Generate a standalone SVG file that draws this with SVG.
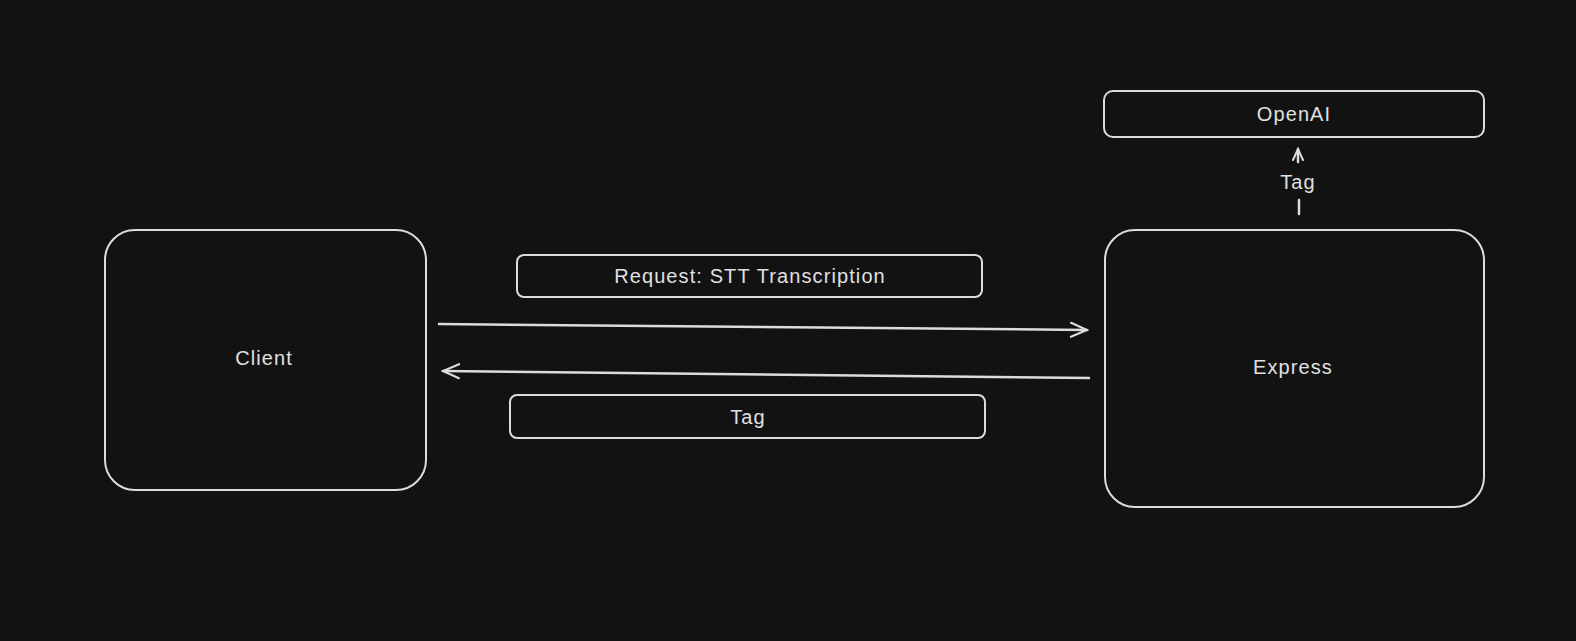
<svg xmlns="http://www.w3.org/2000/svg" width="1576" height="641" viewBox="0 0 1576 641">
<defs>
<style>
.box{fill:#121212;stroke:#dcdcdc;stroke-width:2}
.lbl{font-family:"Liberation Sans",Arial,sans-serif;font-size:20px;letter-spacing:1.1px;fill:#e0e0e0;text-anchor:middle;dominant-baseline:central}
.edge{fill:none;stroke:#dcdcdc;stroke-width:2.5;stroke-linecap:round}
</style>
<marker id="arr" viewBox="0 0 20 20" refX="18" refY="10" markerWidth="20" markerHeight="20" markerUnits="userSpaceOnUse" orient="auto">
<path d="M2,3 L18,10 L2,17" fill="none" stroke="#dcdcdc" stroke-width="2.2" stroke-linecap="round"/>
</marker>
<marker id="arrs" viewBox="0 0 14 14" refX="12" refY="7" markerWidth="14" markerHeight="14" markerUnits="userSpaceOnUse" orient="auto">
<path d="M1,2 L12,7 L1,12" fill="none" stroke="#dcdcdc" stroke-width="2" stroke-linecap="round"/>
</marker>
</defs>
<rect width="1576" height="641" fill="#121212"/>
<g id="connectors">
<path class="edge" d="M439,324 L1087,330" marker-end="url(#arr)"/>
<path class="edge" d="M1089,378 L443,371" marker-end="url(#arr)"/>
<path class="edge" d="M1299,214 L1299,200"/>
<path class="edge" d="M1298,162 L1298,149" marker-end="url(#arrs)"/>
<text class="lbl" x="1298" y="182">Tag</text>
</g>
<g id="client">
<rect class="box" x="105" y="230" width="321" height="260" rx="30"/>
<text class="lbl" x="264" y="358">Client</text>
</g>
<g id="express">
<rect class="box" x="1105" y="230" width="379" height="277" rx="30"/>
<text class="lbl" x="1293" y="367">Express</text>
</g>
<g id="openai">
<rect class="box" x="1104" y="91" width="380" height="46" rx="9"/>
<text class="lbl" x="1294" y="114">OpenAI</text>
</g>
<g id="request">
<rect class="box" x="517" y="255" width="465" height="42" rx="7"/>
<text class="lbl" x="750" y="276">Request: STT Transcription</text>
</g>
<g id="tag">
<rect class="box" x="510" y="395" width="475" height="43" rx="7"/>
<text class="lbl" x="748" y="417">Tag</text>
</g>
</svg>
